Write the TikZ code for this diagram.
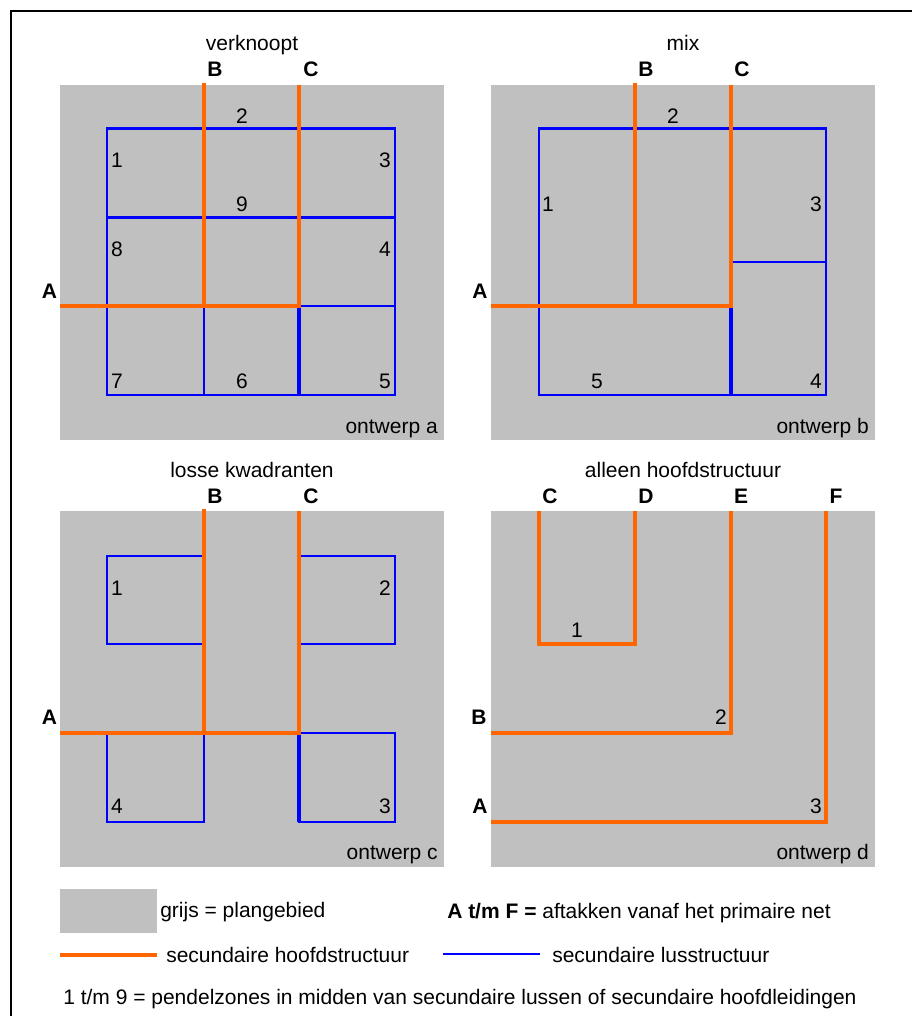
\documentclass[tikz,border=0pt]{standalone}
\usepackage{fontspec}
\setmainfont{Liberation Sans}
\definecolor{gebied}{HTML}{C0C0C0}
\definecolor{oranje}{HTML}{FF6600}
\definecolor{blauw}{HTML}{0000FF}
\tikzset{
  area/.style={fill=gebied, draw=none},
  hoofd/.style={draw=oranje, line width=3pt, line join=miter, line cap=rect},
  lus/.style={draw=blauw, line width=1.9pt, line join=miter},
  lusdik/.style={draw=blauw, line width=2.6pt},
  txt/.style={anchor=base, inner sep=0pt, font=\fontsize{15.75}{18}\selectfont},
  bold/.style={txt, font=\fontsize{15.75}{18}\selectfont\bfseries},
  num/.style={txt},
  ontwerp/.style={txt, anchor=base east},
  frame/.style={draw=black, line width=1.5pt}
}
\begin{document}
\begin{tikzpicture}[x=0.75pt,y=-0.75pt]
\useasboundingbox (0,0) rectangle (911,1016);
\draw[frame] (11,1017) -- (11,11) -- (912,11);

% ---------- panel a: verknoopt ----------
\begin{scope}
  \fill[area] (60,85) rectangle (444,440);
  \draw[lus] (107,128.5) rectangle (395,395);
  \draw[lus] (107,217.5) -- (395,217.5);
  \draw[lus] (107,306) -- (395,306);
  \draw[lus] (204,306) -- (204,395);
  \draw[lusdik] (299,306) -- (299,395);
  \draw[hoofd] (204,85) -- (204,306);
  \draw[hoofd, line cap=butt] (60,306) -- (299,306) -- (299,85);
  \node[txt] (ta) at (252,51) {verknoopt};
  \node[bold] (aB) at (215,77) {B};
  \node[bold] (aC) at (311,77) {C};
  \node[bold] (aA) at (49.5,298) {A};
  \node[num] (a2) at (242,124) {2};
  \node[num] (a1) at (117,168) {1};
  \node[num] (a3) at (385,168) {3};
  \node[num] (a9) at (242,212) {9};
  \node[num] (a8) at (117,257) {8};
  \node[num] (a4) at (385,257) {4};
  \node[num] (a7) at (117,388) {7};
  \node[num] (a6) at (242,388) {6};
  \node[num] (a5) at (385,388) {5};
  \node[ontwerp] (oa) at (438,433) {ontwerp a};
\end{scope}

% ---------- panel b: mix ----------
\begin{scope}[shift={(431,0)}]
  \fill[area] (60,85) rectangle (444,440);
  \draw[lus] (108,128.5) rectangle (395,395);
  \draw[lus] (300,262) -- (395,262);
  \draw[lus] (108,306) -- (300,306);
  \draw[lusdik] (300,306) -- (300,395);
  \draw[hoofd] (204,85) -- (204,306);
  \draw[hoofd, line cap=butt] (60,306) -- (300,306) -- (300,85);
  \node[txt] (tb) at (252,51) {mix};
  \node[bold] (bB) at (215,77) {B};
  \node[bold] (bC) at (311,77) {C};
  \node[bold] (bA) at (49,298) {A};
  \node[num] (b2) at (242,124) {2};
  \node[num] (b1) at (117,212) {1};
  \node[num] (b3) at (385,212) {3};
  \node[num] (b5) at (166,388) {5};
  \node[num] (b4) at (385,388) {4};
  \node[ontwerp] (ob) at (438,433) {ontwerp b};
\end{scope}

% ---------- panel c: losse kwadranten ----------
\begin{scope}[shift={(0,426)}]
  \fill[area] (60,85) rectangle (444,441);
  \draw[lus] (107,130) rectangle (204,218);
  \draw[lus] (299,130) rectangle (395,218);
  \draw[lus] (107,307) rectangle (204,396);
  \draw[lusdik] (299,307) -- (299,396);
  \draw[lus] (299,307) rectangle (395,396);
  \draw[hoofd] (204,85) -- (204,307);
  \draw[hoofd, line cap=butt] (60,307) -- (299,307) -- (299,85);
  \node[txt] (tc) at (252,51) {losse kwadranten};
  \node[bold] (cB) at (215,77) {B};
  \node[bold] (cC) at (311,77) {C};
  \node[bold] (cA) at (49.5,298) {A};
  \node[num] (c1) at (117,169) {1};
  \node[num] (c2) at (385,169) {2};
  \node[num] (c4) at (117,387) {4};
  \node[num] (c3) at (385,387) {3};
  \node[ontwerp] (oc) at (438,433) {ontwerp c};
\end{scope}

% ---------- panel d: alleen hoofdstructuur ----------
\begin{scope}[shift={(431,426)}]
  \fill[area] (60,85) rectangle (444,441);
  \draw[hoofd, line cap=butt] (108,85) -- (108,218) -- (204,218) -- (204,85);
  \draw[hoofd, line cap=butt] (60,307) -- (300,307) -- (300,85);
  \draw[hoofd, line cap=butt] (60,396) -- (395,396) -- (395,85);
  \node[txt] (td) at (252,51) {alleen hoofdstructuur};
  \node[bold] (dC) at (119,77) {C};
  \node[bold] (dD) at (215,77) {D};
  \node[bold] (dE) at (310,77) {E};
  \node[bold] (dF) at (405,77) {F};
  \node[bold] (dB) at (48,298) {B};
  \node[bold] (dA) at (49,387) {A};
  \node[num] (d1) at (146,211) {1};
  \node[num] (d2) at (290,298) {2};
  \node[num] (d3) at (385,387) {3};
  \node[ontwerp] (od) at (438,433) {ontwerp d};
\end{scope}

% ---------- legend ----------
\fill[area] (60,889) rectangle (157,933);
\node[txt, anchor=base west] (lg) at (160,917) {grijs = plangebied};
\node[txt, anchor=base west] (laf) at (447,918) {\textbf{A t/m F =} aftakken vanaf het primaire net};
\draw[hoofd, line cap=butt] (60,955) -- (157,955);
\node[txt, anchor=base west] (lh) at (166,962) {secundaire hoofdstructuur};
\draw[lus, line width=1.7pt] (443,954) -- (540,954);
\node[txt, anchor=base west] (ll) at (552,962) {secundaire lusstructuur};
\node[txt, anchor=base west] (lp) at (63,1004) {1 t/m 9 = pendelzones in midden van secundaire lussen of secundaire hoofdleidingen};
\end{tikzpicture}
\end{document}
